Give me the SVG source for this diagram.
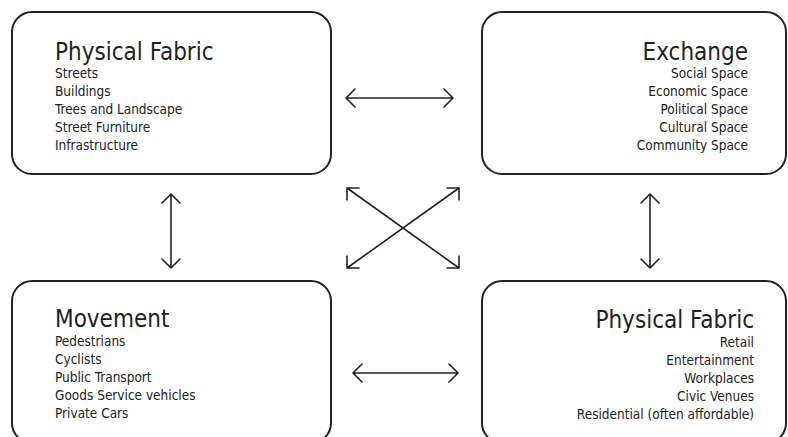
<svg xmlns="http://www.w3.org/2000/svg" width="788" height="437" viewBox="0 0 788 437">
<style>
.box{fill:#fff;stroke:#222;stroke-width:2}
.t{font-family:"DejaVu Sans Condensed","DejaVu Sans","Liberation Sans",sans-serif;fill:#222}
.h{font-size:24px}
.i{font-size:13.5px}
.r{text-anchor:end}
.c{fill:none;stroke:#222;stroke-width:1.6;stroke-linecap:round;stroke-linejoin:round}
</style>
<rect width="788" height="437" fill="#fff"/>
<g id="physical-fabric-1">
<rect class="box" x="12" y="12" width="319" height="162" rx="20"/>
<text class="t h" x="55" y="60">Physical Fabric</text>
<text class="t i" x="55" y="78">Streets</text>
<text class="t i" x="55" y="96">Buildings</text>
<text class="t i" x="55" y="114">Trees and Landscape</text>
<text class="t i" x="55" y="132">Street Furniture</text>
<text class="t i" x="55" y="150">Infrastructure</text>
</g>
<g id="exchange">
<rect class="box" x="482" y="12" width="304" height="162" rx="20"/>
<text class="t h r" x="748" y="60">Exchange</text>
<text class="t i r" x="748" y="78">Social Space</text>
<text class="t i r" x="748" y="96">Economic Space</text>
<text class="t i r" x="748" y="114">Political Space</text>
<text class="t i r" x="748" y="132">Cultural Space</text>
<text class="t i r" x="748" y="150">Community Space</text>
</g>
<g id="movement">
<rect class="box" x="12" y="281" width="319" height="162" rx="20"/>
<text class="t h" x="55" y="327">Movement</text>
<text class="t i" x="55" y="346">Pedestrians</text>
<text class="t i" x="55" y="364">Cyclists</text>
<text class="t i" x="55" y="382">Public Transport</text>
<text class="t i" x="55" y="400">Goods Service vehicles</text>
<text class="t i" x="55" y="418">Private Cars</text>
</g>
<g id="physical-fabric-2">
<rect class="box" x="482" y="281" width="304" height="162" rx="20"/>
<text class="t h r" x="754" y="328">Physical Fabric</text>
<text class="t i r" x="754" y="347">Retail</text>
<text class="t i r" x="754" y="365">Entertainment</text>
<text class="t i r" x="754" y="383">Workplaces</text>
<text class="t i r" x="754" y="401">Civic Venues</text>
<text class="t i r" x="754" y="419">Residential (often affordable)</text>
</g>
<g id="connectors">
<path class="c" d="M346 98H453M355 89L346 98L355 107M444 89L453 98L444 107"/>
<path class="c" d="M353 373H458M362 364L353 373L362 382M449 364L458 373L449 382"/>
<path class="c" d="M171 194V268M162 203L171 194L180 203M162 259L171 268L180 259"/>
<path class="c" d="M650 194V268M641 203L650 194L659 203M641 259L650 268L659 259"/>
<path class="c" d="M347 188L459 268M347 200V188H359M459 256V268H447"/>
<path class="c" d="M459 188L347 268M447 188H459V200M347 256V268H359"/>
</g>
</svg>
